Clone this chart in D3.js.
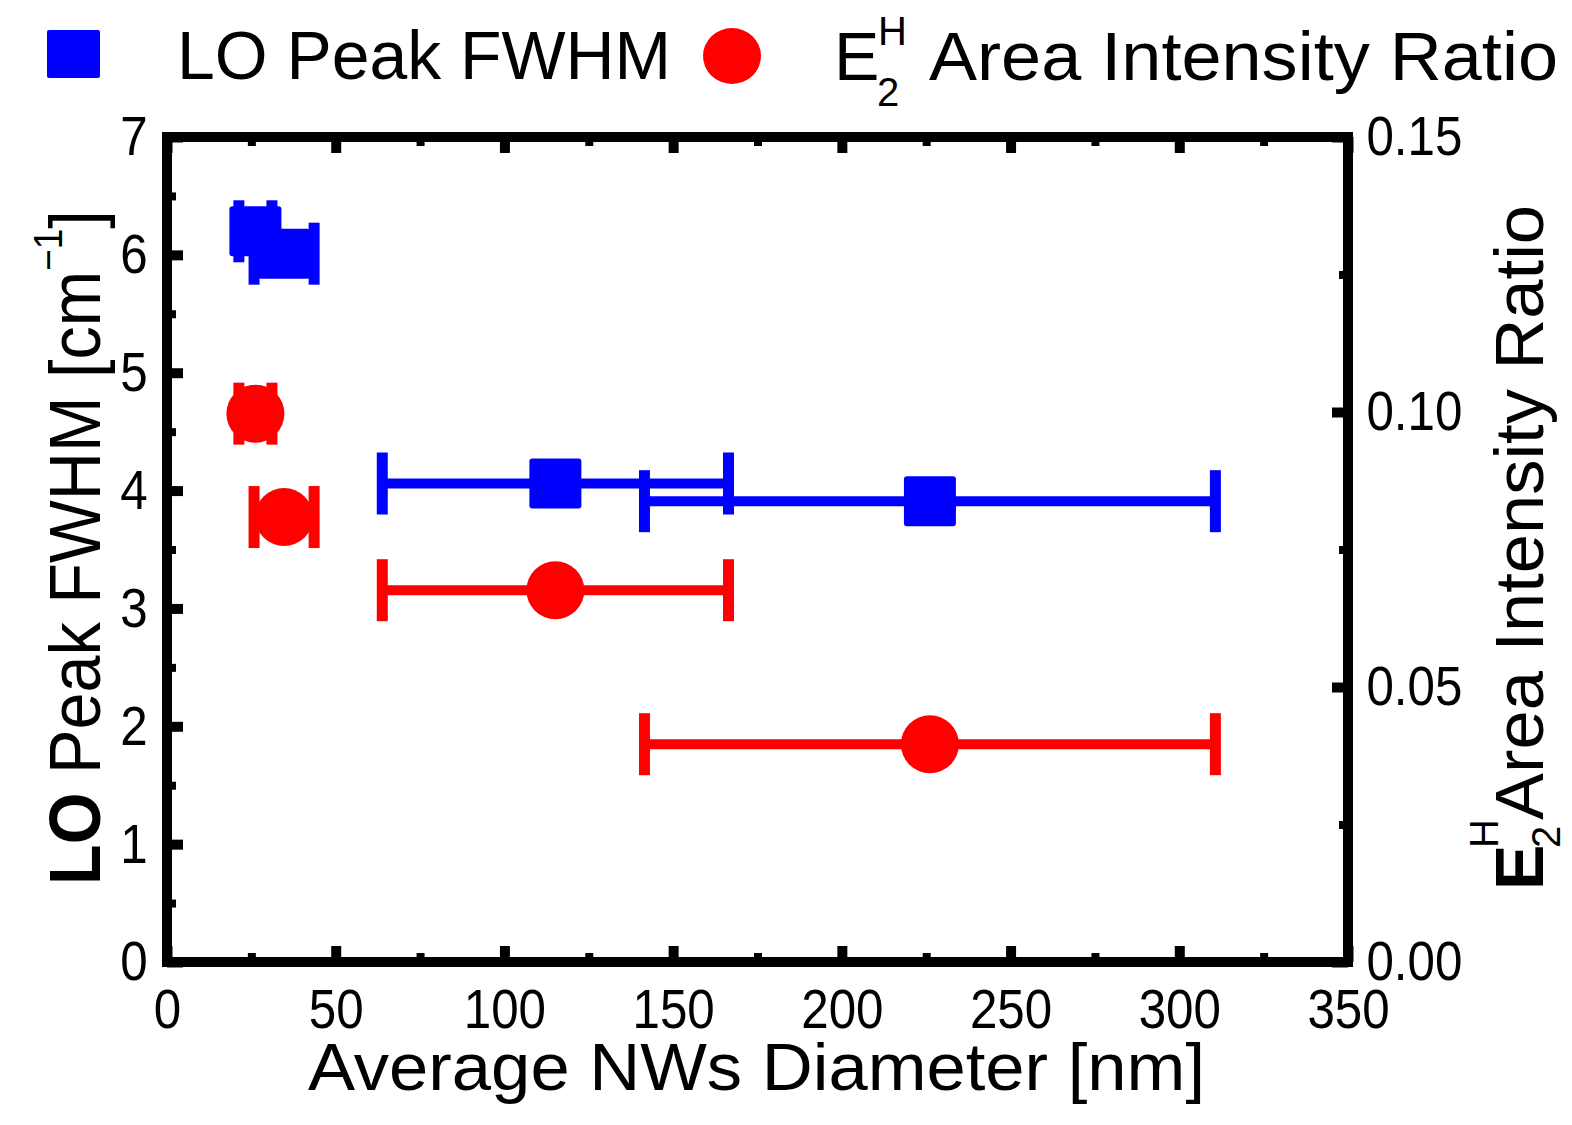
<!DOCTYPE html>
<html lang="en">
<head>
    <meta charset="utf-8">
    <script src="https://d3js.org/d3.v7.min.js"></script>
    <style>
        body {margin: 0; background: #fff;}
        text {font-family: "Liberation Sans", Arial, sans-serif; fill: #000;}
    </style>
</head>
<body>
    <svg id="chart" width="1572" height="1125"></svg>

    <script>
        // data
        const diameter = [26.2, 34.7, 115.1, 226.1];      // nm
        const diameterErr = [4.9, 8.9, 51.3, 84.6];       // nm
        const loFwhm = [6.20, 6.01, 4.06, 3.91];          // cm-1 (left axis)
        const e2hRatio = [0.0997, 0.0809, 0.0676, 0.0396]; // right axis

        const xTicks = [0, 50, 100, 150, 200, 250, 300, 350];
        const xMinor = [25, 75, 125, 175, 225, 275, 325];
        const yLeftTicks = [0, 1, 2, 3, 4, 5, 6, 7];
        const yLeftMinor = [0.5, 1.5, 2.5, 3.5, 4.5, 5.5, 6.5];
        const yRightTicks = [0, 0.05, 0.10, 0.15];
        const yRightMinor = [0.025, 0.075, 0.125];

        const svg = d3.select("#chart");
        const pLeft = 167, pRight = 1348, pTop = 137, pBottom = 962;

        const x = d3.scaleLinear().domain([0, 350]).range([pLeft, pRight]);
        const yL = d3.scaleLinear().domain([0, 7]).range([pBottom, pTop]);
        const yR = d3.scaleLinear().domain([0, 0.15]).range([pBottom, pTop]);

        const tickFont = 56;

        function styleAxis(g, width, fontSize) {
            g.select(".domain").remove();
            g.selectAll(".tick line").attr("stroke", "#000").attr("stroke-width", width);
            // labels in the reference are a bit condensed
            g.selectAll(".tick text").attr("font-size", fontSize).attr("fill", "#000")
                .attr("font-family", '"Liberation Sans", Arial, sans-serif')
                .attr("transform", "scale(0.88,1)");
        }

        // major + minor ticks, all pointing inward
        svg.append("g").attr("transform", `translate(0,${pBottom})`)
            .call(d3.axisBottom(x).tickValues(xTicks).tickSize(-16).tickPadding(26))
            .call(g => styleAxis(g, 10, tickFont));
        svg.append("g").attr("transform", `translate(0,${pBottom})`)
            .call(d3.axisBottom(x).tickValues(xMinor).tickSize(-9).tickFormat(""))
            .call(g => styleAxis(g, 8, 0));
        svg.append("g").attr("transform", `translate(0,${pTop})`)
            .call(d3.axisTop(x).tickValues(xTicks).tickSize(-16).tickFormat(""))
            .call(g => styleAxis(g, 10, 0));
        svg.append("g").attr("transform", `translate(0,${pTop})`)
            .call(d3.axisTop(x).tickValues(xMinor).tickSize(-9).tickFormat(""))
            .call(g => styleAxis(g, 8, 0));

        svg.append("g").attr("transform", `translate(${pLeft},0)`)
            .call(d3.axisLeft(yL).tickValues(yLeftTicks).tickSize(-16).tickPadding(22).tickFormat(d3.format("d")))
            .call(g => styleAxis(g, 10, tickFont));
        svg.append("g").attr("transform", `translate(${pLeft},0)`)
            .call(d3.axisLeft(yL).tickValues(yLeftMinor).tickSize(-9).tickFormat(""))
            .call(g => styleAxis(g, 8, 0));

        svg.append("g").attr("transform", `translate(${pRight},0)`)
            .call(d3.axisRight(yR).tickValues(yRightTicks).tickSize(-16).tickPadding(21).tickFormat(d3.format(".2f")))
            .call(g => styleAxis(g, 10, tickFont));
        svg.append("g").attr("transform", `translate(${pRight},0)`)
            .call(d3.axisRight(yR).tickValues(yRightMinor).tickSize(-9).tickFormat(""))
            .call(g => styleAxis(g, 8, 0));

        // frame
        svg.append("rect")
            .attr("x", pLeft).attr("y", pTop)
            .attr("width", pRight - pLeft).attr("height", pBottom - pTop)
            .attr("fill", "none").attr("stroke", "#000").attr("stroke-width", 10);

        // error bars + markers
        const capH = 62;
        function drawSeries(vals, yScale, color, shape) {
            const pts = diameter.map((d, i) => ({x: d, e: diameterErr[i], y: vals[i]}));
            const g = svg.append("g");
            const eb = g.selectAll("g.eb").data(pts).join("g").attr("class", "eb");
            eb.append("line")
                .attr("x1", d => x(d.x - d.e)).attr("x2", d => x(d.x + d.e))
                .attr("y1", d => yScale(d.y)).attr("y2", d => yScale(d.y))
                .attr("stroke", color).attr("stroke-width", 10);
            eb.selectAll("line.cap").data(d => [[d.x - d.e, d.y], [d.x + d.e, d.y]]).join("line")
                .attr("class", "cap")
                .attr("x1", d => x(d[0])).attr("x2", d => x(d[0]))
                .attr("y1", d => yScale(d[1]) - capH / 2).attr("y2", d => yScale(d[1]) + capH / 2)
                .attr("stroke", color).attr("stroke-width", 11);
            if (shape === "square") {
                g.selectAll("rect").data(pts).join("rect")
                    .attr("x", d => x(d.x) - 26).attr("y", d => yScale(d.y) - 25)
                    .attr("width", 52).attr("height", 50).attr("rx", 3)
                    .attr("fill", color);
            } else {
                g.selectAll("circle").data(pts).join("circle")
                    .attr("cx", d => x(d.x)).attr("cy", d => yScale(d.y)).attr("r", 29)
                    .attr("fill", color);
            }
        }
        drawSeries(loFwhm, yL, "#0000ff", "square");
        drawSeries(e2hRatio, yR, "#ff0000", "circle");

        // legend
        const legend = svg.append("g");
        legend.append("rect").attr("x", 47).attr("y", 30).attr("width", 53).attr("height", 48)
            .attr("rx", 2).attr("fill", "#0000ff");
        legend.append("text").attr("x", 177).attr("y", 79).attr("font-size", 68)
            .attr("textLength", 494).attr("lengthAdjust", "spacingAndGlyphs")
            .text("LO Peak FWHM");
        legend.append("ellipse").attr("cx", 732).attr("cy", 56).attr("rx", 29).attr("ry", 28)
            .attr("fill", "#ff0000");
        legend.append("text").attr("x", 834).attr("y", 80).attr("font-size", 68).text("E");
        legend.append("text").attr("x", 878).attr("y", 45).attr("font-size", 40).text("H");
        legend.append("text").attr("x", 877).attr("y", 106).attr("font-size", 40).text("2");
        legend.append("text").attr("x", 929).attr("y", 80).attr("font-size", 68)
            .attr("textLength", 629).attr("lengthAdjust", "spacingAndGlyphs")
            .text("Area Intensity Ratio");

        // x title
        svg.append("text").attr("x", 308).attr("y", 1090).attr("font-size", 66)
            .attr("textLength", 897).attr("lengthAdjust", "spacingAndGlyphs")
            .text("Average NWs Diameter [nm]");

        // left title (rotated)
        const lt = svg.append("g").attr("transform", "translate(100,885) rotate(-90)");
        const ltText = lt.append("text").attr("font-size", 72);
        ltText.append("tspan").attr("font-weight", "bold").text("LO");
        ltText.append("tspan").text(" Peak FWHM [cm");
        ltText.append("tspan").attr("font-size", 40).attr("dy", -38).text("\u22121");
        ltText.append("tspan").attr("dy", 38).text("]");
        const ltw = ltText.node().getComputedTextLength();
        ltText.attr("transform", `scale(${675 / ltw},1)`);

        // right title (rotated)
        const rt = svg.append("g").attr("transform", "translate(1543,890) rotate(-90)");
        rt.append("text").attr("font-size", 68).attr("font-weight", "bold").text("E");
        rt.append("text").attr("x", 42).attr("y", -45).attr("font-size", 40).text("H");
        rt.append("text").attr("x", 42).attr("y", 17).attr("font-size", 40).text("2");
        rt.append("text").attr("x", 70).attr("font-size", 68)
            .attr("textLength", 615).attr("lengthAdjust", "spacingAndGlyphs")
            .text("Area Intensity Ratio");
    </script>
</body>
</html>
